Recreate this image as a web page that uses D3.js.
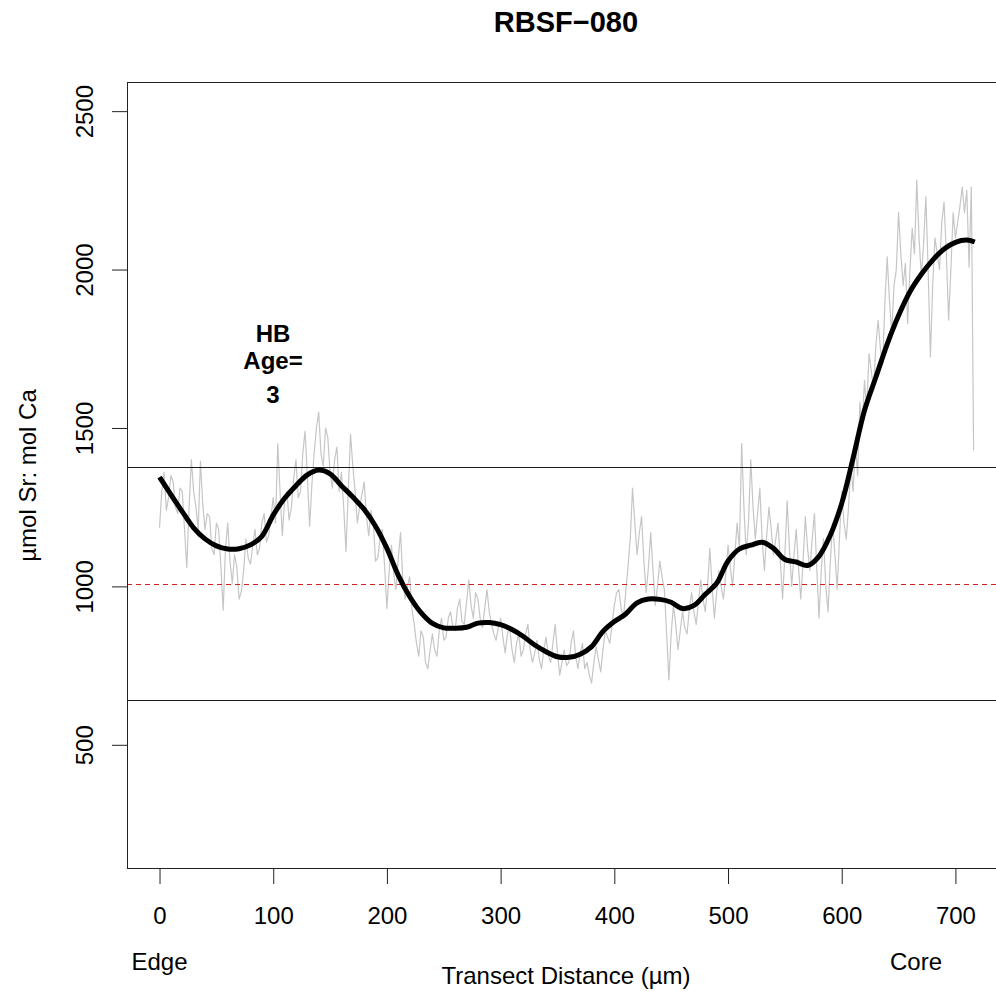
<!DOCTYPE html>
<html>
<head>
<meta charset="utf-8">
<script src="https://cdn.jsdelivr.net/npm/d3@7"></script>
<style>
  html, body { margin: 0; padding: 0; background: #ffffff; }
  svg { display: block; }
  text { font-family: "Liberation Sans", Arial, sans-serif; fill: #000; }
</style>
</head>
<body>
<svg id="chart" width="996" height="991"></svg>
<script>
// ---------------- DATA ----------------
const chartTitle = "RBSF\u2212080";
const xTicks = [0, 100, 200, 300, 400, 500, 600, 700];
const yTicks = [500, 1000, 1500, 2000, 2500];

// raw transect, one value every rawStep µm starting at 0
const rawStep = 2;
const rawValues = [
  1185, 1300, 1360, 1240, 1280, 1350, 1330, 1250, 1230, 1310,
  1300, 1180, 1060, 1250, 1400, 1300, 1250, 1180, 1395, 1260,
  1180, 1230, 1220, 1120, 1100, 1200, 1180, 1060, 925, 1120,
  1200, 1080, 1010, 1100, 1060, 960, 985, 1050, 1150, 1090,
  1070, 1130, 1180, 1100, 1120, 1200, 1230, 1140, 1160, 1220,
  1280, 1200, 1450, 1300, 1160, 1270, 1300, 1210, 1250, 1340,
  1400, 1280, 1300, 1420, 1490, 1350, 1190, 1320, 1420, 1500,
  1550, 1420, 1380, 1500, 1470, 1360, 1310, 1400, 1440, 1300,
  1360, 1250, 1110, 1300, 1480, 1380, 1300, 1200, 1250, 1290,
  1330, 1220, 1160, 1240, 1200, 1080, 1090, 1150, 1180, 1060,
  930, 1050, 1130, 1040, 990, 1090, 1170, 1020, 960, 1000,
  1030, 930, 880, 820, 780, 860, 840, 760, 740, 800,
  850, 800, 780, 860, 900, 830, 840, 900, 920, 870,
  860, 930, 960, 890, 880, 950, 1020, 940, 900, 980,
  960, 900, 870, 930, 990, 920, 880, 850, 830, 870,
  900, 840, 790, 850, 870, 800, 760, 820, 850, 780,
  800, 850, 880, 800, 760, 790, 830, 770, 740, 800,
  840, 780, 760, 820, 880, 790, 720, 760, 800, 750,
  760, 820, 860, 780, 740, 790, 820, 740, 760, 720,
  695, 760, 810, 770, 730, 800, 860, 840, 820, 880,
  940, 980, 990, 930, 900, 980, 1060, 1150, 1310, 1200,
  1100, 1170, 1220, 1080, 980, 1060, 1170, 1050, 940, 1000,
  1080, 1030, 990, 850, 705, 850, 940, 880, 800, 860,
  920, 870, 850, 930, 980, 920, 880, 950, 1020, 960,
  920, 1000, 1120, 1000, 900, 980, 1050, 1000, 960, 1040,
  1130, 1060, 1000, 1100, 1200, 1120, 1451, 1250, 1100, 1200,
  1400, 1250, 1150, 1230, 1310, 1150, 1050, 1160, 1250, 1180,
  1100, 1150, 1200, 1080, 960, 1100, 1270, 1120, 1000, 1100,
  1180, 1060, 960, 1080, 1220, 1120, 1050, 1150, 1230, 1060,
  900, 1050, 1150, 1000, 920, 1080, 1200, 1100, 990, 1150,
  1300, 1200, 1150, 1250, 1380, 1300, 1450, 1350, 1580, 1500,
  1650, 1560, 1735, 1680, 1620, 1760, 1840, 1750, 1700, 1900,
  2040, 1900, 1800, 1950, 2000, 2180, 2050, 1950, 2020, 1830,
  2000, 2130, 2050, 2282, 2100, 1980, 2080, 2230, 2000, 1724,
  1950, 2100, 2050, 2000, 2150, 2213, 2050, 1840, 2000, 2180,
  2100, 2150, 2200, 2260, 2180, 2250, 2008, 2260, 1430
];

// smoothed curve
const smoothX = [0, 10, 20, 30, 40, 50, 60, 70, 80, 90, 100, 110, 120, 130, 140, 150,
  160, 170, 180, 190, 200, 210, 220, 230, 240, 250, 260, 270, 280, 290, 300, 310,
  320, 330, 340, 350, 360, 370, 380, 390, 400, 410, 420, 430, 440, 450, 460, 470,
  480, 490, 500, 510, 520, 530, 540, 550, 560, 570, 580, 590, 600, 610, 620, 630,
  640, 650, 660, 670, 680, 690, 700, 710, 717];
const smoothY = [1345, 1290, 1236, 1185, 1150, 1128, 1118, 1119, 1131, 1158, 1225, 1278, 1318, 1352, 1367, 1355,
  1318, 1282, 1243, 1190, 1120, 1035, 968, 917, 883, 869, 868, 871, 884, 886, 879, 864,
  842, 815, 794, 778, 776, 786, 810, 858, 889, 913, 948, 960, 959, 950, 930, 940,
  975, 1010, 1080, 1118, 1130, 1139, 1120, 1085, 1077, 1066, 1095, 1162, 1262, 1405, 1555, 1660,
  1765, 1855, 1930, 1985, 2030, 2065, 2086, 2093, 2087];

// reference lines
const upperLine = 1376;
const lowerLine = 640;
const meanLine = 1009;

const annotationLines = ["HB", "Age=", "3"];
const xAxisTitle = "Transect Distance (\u00b5m)";
const yAxisTitle = "\u00b5mol Sr: mol Ca";
const edgeLabel = "Edge";
const coreLabel = "Core";

// ---------------- LAYOUT ----------------
const svg = d3.select("#chart");
const plotL = 127, plotT = 82, plotR = 1005, plotB = 869;

const x = d3.scaleLinear().domain([-28.6, 743.6]).range([plotL, plotR]);
const y = d3.scaleLinear().domain([108, 2592]).range([plotB, plotT]);

const defs = svg.append("defs");
defs.append("clipPath").attr("id", "clip")
  .append("rect").attr("x", plotL).attr("y", plotT)
  .attr("width", plotR - plotL).attr("height", plotB - plotT);

const plot = svg.append("g").attr("clip-path", "url(#clip)");

// raw gray line
const rawData = rawValues.map((v, i) => ({ x: i * rawStep, y: v }));
plot.append("path")
  .datum(rawData)
  .attr("fill", "none")
  .attr("stroke", "#c6c6c6")
  .attr("stroke-width", 1.2)
  .attr("stroke-linejoin", "round")
  .attr("d", d3.line().x(d => x(d.x)).y(d => y(d.y)));

// horizontal reference lines
[upperLine, lowerLine].forEach(v => {
  plot.append("line")
    .attr("x1", plotL).attr("x2", plotR)
    .attr("y1", Math.round(y(v)) + 0.5).attr("y2", Math.round(y(v)) + 0.5)
    .attr("stroke", "#1a1a1a").attr("stroke-width", 1);
});
plot.append("line")
  .attr("x1", plotL).attr("x2", plotR)
  .attr("y1", Math.round(y(meanLine)) + 0.5).attr("y2", Math.round(y(meanLine)) + 0.5)
  .attr("stroke", "#cc2222").attr("stroke-width", 1)
  .attr("stroke-dasharray", "5,4");

// smooth black line
const smoothData = smoothX.map((v, i) => ({ x: v, y: smoothY[i] }));
plot.append("path")
  .datum(smoothData)
  .attr("fill", "none")
  .attr("stroke", "#000")
  .attr("stroke-width", 5)
  .attr("stroke-linejoin", "round")
  .attr("stroke-linecap", "butt")
  .attr("d", d3.line().x(d => x(d.x)).y(d => y(d.y)).curve(d3.curveCatmullRom.alpha(0.5)));

// box
svg.append("rect")
  .attr("x", plotL + 0.5).attr("y", plotT + 0.5)
  .attr("width", plotR - plotL - 1).attr("height", plotB - plotT - 1)
  .attr("fill", "none").attr("stroke", "#222").attr("stroke-width", 1);

// x axis
const xAxis = svg.append("g")
  .attr("transform", `translate(0,${plotB})`)
  .call(d3.axisBottom(x).tickValues(xTicks).tickSize(15).tickPadding(23).tickFormat(d3.format("d")));
xAxis.select(".domain").remove();
xAxis.selectAll(".tick line").attr("stroke", "#222");
xAxis.selectAll(".tick text")
  .attr("font-size", 24).attr("font-family", "Liberation Sans, Arial, sans-serif").attr("fill", "#000");

// y axis
const yAxis = svg.append("g")
  .attr("transform", `translate(${plotL},0)`)
  .call(d3.axisLeft(y).tickValues(yTicks).tickSize(15).tickFormat(d3.format("d")));
yAxis.select(".domain").remove();
yAxis.selectAll(".tick line").attr("stroke", "#222");
yAxis.selectAll(".tick text")
  .attr("x", null).attr("dy", null)
  .attr("text-anchor", "middle")
  .attr("transform", `translate(${93 - plotL},0) rotate(-90)`)
  .attr("font-size", 24).attr("font-family", "Liberation Sans, Arial, sans-serif").attr("fill", "#000");

// title
svg.append("text")
  .attr("x", (plotL + plotR) / 2).attr("y", 32)
  .attr("text-anchor", "middle")
  .attr("font-size", 29).attr("font-weight", "bold")
  .text(chartTitle);

// axis titles
svg.append("text")
  .attr("x", (plotL + plotR) / 2).attr("y", 984)
  .attr("text-anchor", "middle").attr("font-size", 24)
  .text(xAxisTitle);
svg.append("text")
  .attr("transform", `translate(36,${(plotT + plotB) / 2}) rotate(-90)`)
  .attr("text-anchor", "middle").attr("font-size", 24)
  .text(yAxisTitle);

// edge / core labels
svg.append("text")
  .attr("x", x(0)).attr("y", 970)
  .attr("text-anchor", "middle").attr("font-size", 24)
  .text(edgeLabel);
svg.append("text")
  .attr("x", 916).attr("y", 970)
  .attr("text-anchor", "middle").attr("font-size", 24)
  .text(coreLabel);

// annotation
const annBaselines = [342, 369, 403];
annotationLines.forEach((t, i) => {
  svg.append("text")
    .attr("x", 273).attr("y", annBaselines[i])
    .attr("text-anchor", "middle")
    .attr("font-size", 24).attr("font-weight", "bold")
    .text(t);
});
</script>
</body>
</html>
